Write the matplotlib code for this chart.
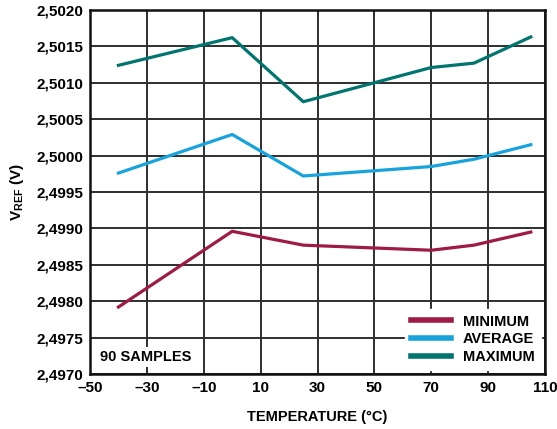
import matplotlib
matplotlib.use("Agg")
import matplotlib.pyplot as plt

plt.rcParams['font.family'] = ['Liberation Sans', 'DejaVu Sans']
plt.rcParams['font.weight'] = 'bold'
plt.rcParams['mathtext.fontset'] = 'custom'
plt.rcParams['mathtext.rm'] = 'Liberation Sans:bold'
plt.rcParams['mathtext.bf'] = 'Liberation Sans:bold'

# Datos
temperature = [-40, 0, 25, 70, 85, 105]
v_min = [2.49792, 2.49896, 2.49877, 2.49870, 2.49877, 2.49895]
v_avg = [2.49976, 2.50029, 2.49972, 2.49985, 2.49995, 2.50015]
v_max = [2.50124, 2.50162, 2.50074, 2.50121, 2.50127, 2.50163]
x_ticks = [-50, -30, -10, 10, 30, 50, 70, 90, 110]
y_ticks = [2.4970, 2.4975, 2.4980, 2.4985, 2.4990, 2.4995,
           2.5000, 2.5005, 2.5010, 2.5015, 2.5020]

fig = plt.figure(figsize=(5.57, 4.29), dpi=100)
ax = fig.add_axes([0.1616, 0.1282, 0.8169, 0.8485])

ax.plot(temperature, v_min, color='#9e1b46', lw=2.3, label='MINIMUM', zorder=3)
ax.plot(temperature, v_avg, color='#18a3dc', lw=2.3, label='AVERAGE', zorder=3)
ax.plot(temperature, v_max, color='#00756e', lw=2.3, label='MAXIMUM', zorder=3)

ax.set_xlim(-50, 110)
ax.set_ylim(2.4970, 2.5020)
x_labels = [f"{v:.0f}".replace('-', '\u2013') for v in x_ticks]
y_labels = [f"{v:.4f}".replace('.', ',') for v in y_ticks]
ax.set_xticks(x_ticks, labels=x_labels, fontsize=11, fontweight='bold')
ax.set_yticks(y_ticks, labels=y_labels, fontsize=11, fontweight='bold')
ax.tick_params(length=0, pad=5)
ax.grid(True, color='#2e2e2e', lw=1.4, zorder=1)
for s in ax.spines.values():
    s.set_linewidth(1.8)
    s.set_color('#111111')

ax.set_xlabel('TEMPERATURE (°C)', fontsize=10.5, fontweight='bold', labelpad=11)
ax.set_ylabel(r'$\mathbf{V_{REF}}$ (V)', fontsize=11, fontweight='bold', labelpad=7)

leg = ax.legend(loc='lower right', frameon=True, fontsize=10.5, handlelength=2.8,
                borderaxespad=0.3, labelspacing=0.25, fancybox=False)
leg.get_frame().set_edgecolor('white')
leg.get_frame().set_facecolor('white')
leg.get_frame().set_alpha(1)
for line in leg.get_lines():
    line.set_linewidth(4)

ax.text(-46.5, 2.49723, '90 SAMPLES', fontsize=10.5, fontweight='bold', ha='left', va='center',
        bbox=dict(facecolor='white', edgecolor='none', pad=2), zorder=4)

plt.savefig('out.png', dpi=100)
